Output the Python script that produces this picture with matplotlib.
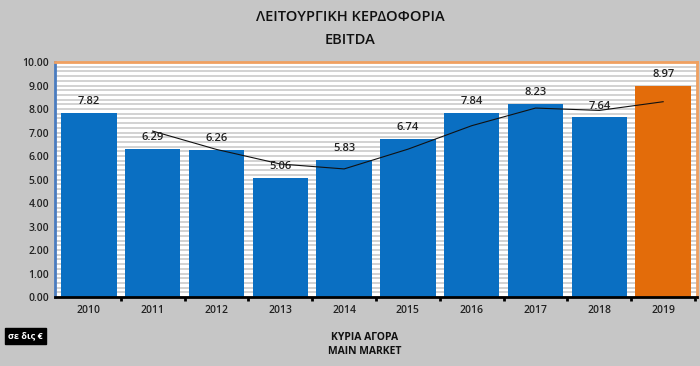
import matplotlib
matplotlib.use("Agg")
import matplotlib.pyplot as plt
from matplotlib import font_manager
import numpy as np

years = ["2010", "2011", "2012", "2013", "2014", "2015", "2016", "2017", "2018", "2019"]
ebitda = [7.82, 6.29, 6.26, 5.06, 5.83, 6.74, 7.84, 8.23, 7.64, 8.97]
trend_years = ["2011", "2012", "2013", "2014", "2015", "2016", "2017", "2018", "2019"]
trend = [7.06, 6.28, 5.66, 5.45, 6.29, 7.29, 8.04, 7.94, 8.31]
yticks = [0, 1, 2, 3, 4, 5, 6, 7, 8, 9, 10]

plt.rcParams['font.family'] = ['Open Sans', 'DejaVu Sans']

names = {f.name for f in font_manager.fontManager.ttflist}
title_family = ['Liberation Sans Narrow', 'Open Sans', 'DejaVu Sans'] if 'Liberation Sans Narrow' in names else ['Open Sans', 'DejaVu Sans']
title_size = 13 if 'Liberation Sans Narrow' in names else 10.5

fig = plt.figure(figsize=(7, 3.66), dpi=100)
fig.patch.set_facecolor('#c6c6c6')
ax = fig.add_axes([0.0786, 0.1885, 0.9171, 0.6421])
ax.set_facecolor('white')

x = np.arange(len(years))
colors = ['#0a6fc2'] * (len(years) - 1) + ['#e36c0a']
ax.bar(x, ebitda, width=0.87, color=colors, zorder=3)
for xi, v in zip(x, ebitda):
    ax.text(xi, v + 0.25, f"{v:.2f}", ha='center', va='bottom', fontsize=8, fontweight=600,
            color='#222222', zorder=5)

tx = [years.index(t) for t in trend_years]
ax.plot(tx, trend, color='#111111', lw=0.8, zorder=4)

ax.set_xlim(-0.53, len(years) - 0.47)
ax.set_ylim(0, 10)
ax.set_yticks(yticks)
ax.set_yticklabels([f"{t:.2f}" for t in yticks], fontsize=7.5, fontweight=600, color='#222222')
ax.set_yticks(np.arange(0, 10.01, 0.2), minor=True)
ax.grid(which='both', axis='y', color='#d2d2d2', lw=1.4, zorder=0)
ax.tick_params(axis='y', which='both', length=0, pad=4)

ax.set_xticks(x)
ax.set_xticklabels(years, fontsize=7.5, fontweight=600, color='#222222')
ax.set_xticks(np.arange(len(years)) + 0.5, minor=True)
ax.tick_params(axis='x', which='major', length=0, pad=6)
ax.tick_params(axis='x', which='minor', length=3, width=2, color='black', direction='out')

ax.spines['left'].set_color('#4a7cc0')
ax.spines['left'].set_linewidth(2)
ax.spines['top'].set_color('#f0a060')
ax.spines['top'].set_linewidth(2)
ax.spines['right'].set_color('#f0a060')
ax.spines['right'].set_linewidth(2)
ax.spines['bottom'].set_color('black')
ax.spines['bottom'].set_linewidth(2)
ax.spines['bottom'].set_zorder(6)

fig.text(0.5, 0.953, "ΛΕΙΤΟΥΡΓΙΚΗ ΚΕΡΔΟΦΟΡΙΑ", ha='center', va='center', fontsize=title_size,
         family=title_family, fontweight=600, color='#111111')
fig.text(0.5, 0.890, "EBITDA", ha='center', va='center', fontsize=title_size,
         family=title_family, fontweight=600, color='#111111')

fig.text(0.521, 0.079, "ΚΥΡΙΑ ΑΓΟΡΑ", ha='center', va='center', fontsize=7.5, fontweight='bold', color='#111111')
fig.text(0.521, 0.040, "MAIN MARKET", ha='center', va='center', fontsize=7.5, fontweight='bold', color='#111111')

fig.text(0.036, 0.082, "σε δις €", ha='center', va='center', fontsize=6.5, fontweight='bold', color='white',
         bbox=dict(boxstyle='square,pad=0.35', facecolor='black', edgecolor='black'))

fig.savefig("out.png", dpi=100, facecolor=fig.get_facecolor())
